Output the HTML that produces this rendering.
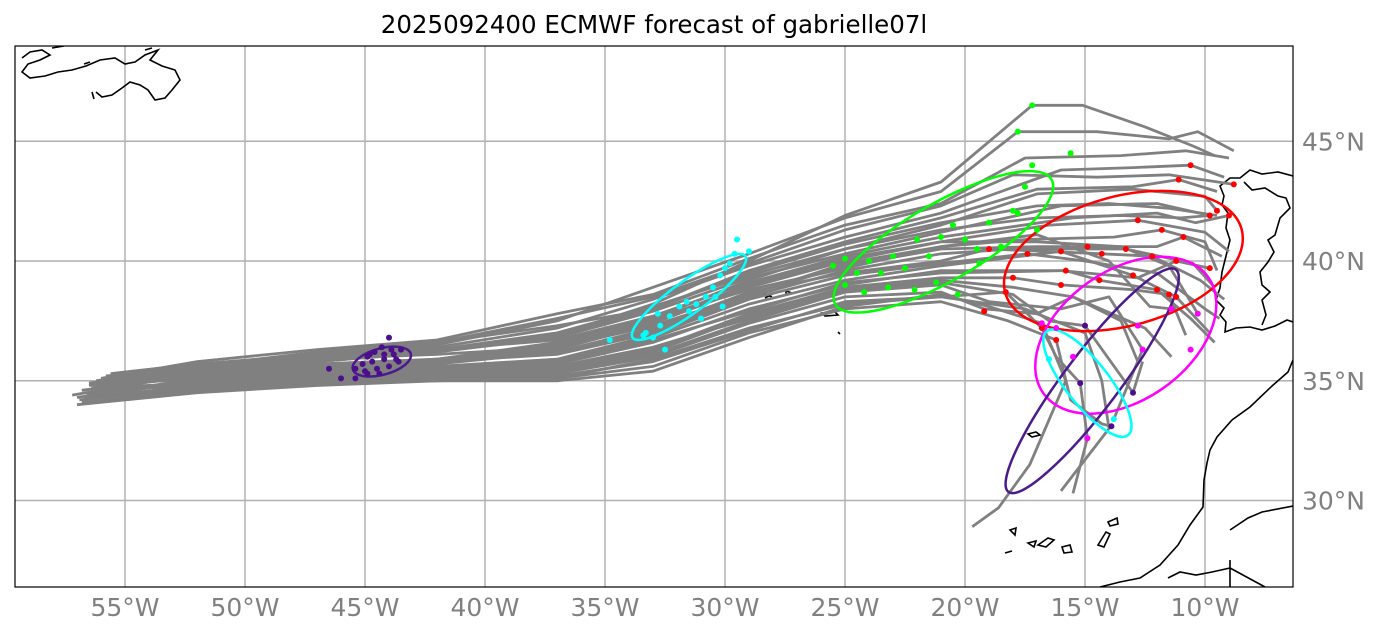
<!DOCTYPE html>
<html><head><meta charset="utf-8">
<style>
html,body{margin:0;padding:0;background:#fff;}
svg{display:block;font-family:"DejaVu Sans","Liberation Sans",sans-serif;}
</style></head>
<body>
<svg id="chart" width="1382" height="636" viewBox="0 0 1382 636" xmlns="http://www.w3.org/2000/svg">
<text x="654" y="33" text-anchor="middle" font-size="24.5" fill="#000">2025092400 ECMWF forecast of gabrielle07l</text>
<defs><clipPath id="clip"><rect x="15" y="46" width="1278" height="541"/></clipPath></defs>
<g id="grid"></g>
<g clip-path="url(#clip)">
<g id="coast" fill="none" stroke="#000" stroke-width="1.6">
<path d="M22,58 L30,52 L42,50 L50,55 L40,60 L28,64 L22,72 L30,78 L45,76 L58,72 L72,70 L86,66 L100,60 L115,58 L125,64 L135,62 L145,55 L158,50 L150,60 L162,66 L175,70 L180,80 L172,90 L165,98 L155,100 L148,90 L140,85 L130,82 L122,88 L112,95 L102,97 L96,92 M52,48 L64,46 M84,64 L90,62 M145,50 L152,48 M92,92 L94,99"/>
<path d="M752,296 L762,293 L772,297 M765,298 L774,293 M786,291 L792,293 L786,295 Z M822,313 L835,312 L838,315 L825,316 Z M838,332 L840,334"/>
<path d="M1028,434 L1036,432 L1040,435 L1032,437 Z"/>
<path d="M1010,530 L1016,528 L1015,535 Z M1005,553 L1012,551 M1028,543 L1036,541 L1034,547 Z M1038,545 L1048,538 L1054,540 L1046,547 Z M1062,547 L1070,545 L1072,552 L1064,553 Z M1098,545 L1106,532 L1110,534 L1104,547 Z M1108,522 L1117,518 L1118,524 L1110,526 Z"/>
<path d="M1293,176 L1278,172 L1262,174 L1250,170 L1240,178 L1230,178 L1220,186 L1224,196 L1222,205 L1228,213 L1226,228 L1230,240 L1226,256 L1222,272 L1220,288 L1216,300 L1224,308 L1220,315 L1226,322 L1225,332 L1236,328 L1250,327 L1262,330 L1275,326 L1287,320 L1293,322"/>
<path d="M1244,182 L1252,190 L1265,188 L1278,196 L1286,198 L1290,208 L1280,218 L1275,235 L1268,240 L1274,252 L1268,262 L1260,272 L1262,285 L1270,292 L1262,300 L1266,315 L1262,325"/>
<path d="M1293,360 L1288,372 L1272,386 L1250,407 L1232,420 L1217,437 L1210,450 L1207,463 L1204,480 L1203,507 L1190,525 L1178,545 L1160,565 L1140,578 L1120,582 L1100,587 M1168,578 L1180,572 L1196,575 L1212,572 L1230,568 M1230,560 L1230,587 M1230,568 L1265,587 M1230,530 L1248,518 L1262,512 L1293,506"/>
</g>
<g id="tracks"></g>
<g id="ellipses"></g>
<g id="dots"></g>
</g>
<rect x="15" y="46" width="1278" height="541" fill="none" stroke="#000" stroke-width="1.2"/>
<g id="labels"></g>
</svg>
<script>
const lonTicks = [-55,-50,-45,-40,-35,-30,-25,-20,-15,-10];
const latTicks = [30,35,40,45];
const trunkLons = [-52,-47,-42,-37,-33,-29,-25,-21];
const trackStarts = [[-57.2,34.4],[-56.5,34.8],[-56,35.1],[-56.3,34.6],[-55.8,35.2],[-56.7,34.3],[-56,35.0],[-55.5,35.3],[-56.2,34.9],[-56.4,34.7],[-55.7,35.0],[-56.8,34.6],[-56,35.0],[-56.2,34.8],[-56.5,34.5],[-56.6,34.4],[-55.6,35.1],[-56.3,34.7],[-56.9,34.2],[-56.1,34.5],[-56.8,34.1],[-56.0,34.6],[-57,34.0],[-55.8,34.9],[-56.4,34.3],[-55.6,35.3],[-56.2,35.0],[-56.5,34.9],[-57,34.3],[-56.3,34.8],[-56,34.6]];
const trunkLats = [
[35.3,35.8,36.2,36.9,38.2,40.0,41.9,43.3],[35.6,36.1,36.5,37.5,38.9,40.3,41.8,42.9],[35.8,36.3,36.7,37.8,38.6,40.1,41.5,42.4],[35.5,36.0,36.4,37.2,38.4,39.8,41.0,42.0],[35.6,36.1,36.6,37.3,38.0,39.6,40.8,41.8],[35.0,35.5,35.9,36.6,37.6,39.2,40.5,41.5],[35.4,35.8,36.2,36.8,37.9,39.3,40.3,41.2],[35.7,36.0,36.3,36.7,37.7,39.1,40.2,41.0],[35.2,35.5,35.7,36.3,37.4,38.9,40.0,40.8],[35.3,35.6,35.9,36.5,37.6,38.8,39.7,40.6],[35.5,35.9,36.1,36.4,37.3,38.6,39.8,40.5],[35.2,35.6,35.8,36.1,37.0,38.5,39.6,40.3],[35.4,35.7,35.9,36.2,37.2,38.7,39.5,40.0],[35.1,35.4,35.6,35.9,36.9,38.4,39.4,39.9],[35.0,35.3,35.5,35.8,36.8,38.2,39.2,39.8],[35.0,35.3,35.4,35.7,36.6,38.0,39.0,39.6],[35.3,35.5,35.6,35.8,36.7,37.9,39.1,39.5],[34.9,35.2,35.3,35.5,36.3,37.8,38.9,39.3],[34.7,35.0,35.1,35.4,36.2,37.7,38.8,39.2],[34.9,35.1,35.2,35.3,36.0,37.4,38.5,38.7],[34.6,34.9,35.0,35.1,35.9,37.2,38.2,38.5],[34.8,35.0,35.1,35.1,35.6,37.0,38.0,38.3],[34.5,34.8,35.0,35.0,35.4,36.8,38.1,38.6],[35.1,35.3,35.4,35.6,36.4,37.6,38.8,39.1],[34.8,35.1,35.2,35.4,36.1,37.5,38.7,39.0],[35.7,36.1,36.3,36.9,38.0,39.5,40.7,41.6],[35.6,36.2,36.6,37.6,38.5,39.9,41.3,42.3],[35.4,35.9,36.3,37.0,38.1,39.4,40.5,41.3],[35.1,35.5,35.8,36.4,37.5,39.0,40.1,40.8],[35.2,35.5,35.7,36.2,37.1,38.6,39.9,40.6],[34.9,35.1,35.2,35.2,35.8,37.1,38.3,38.5]];
const trackTails = [
[[-17.2,46.5],[-15.1,46.5],[-12.5,45.6],[-10.5,44.8],[-9.6,44.4]],
[[-17.8,45.4],[-14.5,45.4],[-11.5,45.1],[-10.3,45.4],[-8.8,44.6]],
[[-17.5,44.3],[-13.5,44.4],[-10.8,44.6],[-9.0,44.3]],
[[-16.0,43.8],[-13,43.9],[-10.6,44.0],[-9.2,43.5]],
[[-17,43.0],[-13,43.1],[-11.1,43.4],[-9.5,42.9]],
[[-17,42.8],[-13,43],[-10,42.7],[-9.5,42.1]],
[[-16,42.3],[-12,42.4],[-9.8,41.9]],
[[-15.5,41.8],[-12,42.0],[-10.4,41.6],[-9.0,41.9]],
[[-16.5,41.5],[-12.8,41.7],[-10,41.2],[-9,40.4]],
[[-17.4,40.9],[-13.8,41.0],[-11.8,41.3],[-10,40.8],[-9.5,39.6]],
[[-17,40.6],[-14.9,40.6],[-12,40.6],[-10.9,41.0],[-9.3,40.2]],
[[-18,40.5],[-13.3,40.5],[-10.5,39.9],[-9.6,38.9]],
[[-19,40.5],[-14.3,40.3],[-12.2,40.2],[-10.2,39.2],[-9.2,38.4]],
[[-17.4,40.3],[-15,40],[-12,39.5],[-10,38.0],[-9.4,37.6]],
[[-16,40.4],[-13,39.4],[-11.2,38.5],[-9.8,37.0]],
[[-16,39.6],[-12.8,39.3],[-11.2,40.0],[-9.8,39.7]],
[[-15.8,39.6],[-14.4,39.2],[-12,38.8],[-10.6,37.6],[-9.6,36.6]],
[[-18,39.3],[-16,39.0],[-13,38.8],[-11.5,38.6],[-10.8,36.9]],
[[-18,38.9],[-15.5,38.5],[-12.5,37.2],[-11.4,36.0]],
[[-19.2,38.0],[-17,37.8],[-15.5,38.5],[-13.5,37.5],[-12.8,35.8]],
[[-18.3,38.7],[-16.8,37.2],[-16.2,36.0],[-15.2,34.9],[-14.9,32.6],[-15.5,30.3]],
[[-18.2,37.5],[-16.2,36.7],[-15.6,34.2],[-14.3,33.2],[-13.9,33.1]],
[[-19,38.1],[-16.8,37.4],[-15.8,35.0],[-17.3,31.5],[-18.6,29.7],[-19.7,28.9]],
[[-18,38.6],[-16.5,37.5],[-15.0,37.3],[-13.0,34.5],[-12.6,35.8]],
[[-19,38.3],[-16.0,38.0],[-14,38.5],[-12.6,36.3],[-13.8,33.4]],
[[-17,42.3],[-14,42.4],[-11.5,42.2],[-9.5,41.9]],
[[-18,43.6],[-14.5,43.5],[-11.5,43.6],[-8.8,43.2]],
[[-17,41.8],[-13.5,41.9],[-11,41.8],[-9.8,41.9]],
[[-17,40.8],[-13.5,40.6],[-11.5,39.8],[-10.3,37.8]],
[[-17,41.1],[-14,40.0],[-12.3,38.1],[-11.4,38.0]],
[[-17.5,38.0],[-15.0,37.0],[-14.3,35.0],[-14.0,33.0],[-16.0,30.4]]];
const dotsIndigo1 = [[-44,36.8],[-44.3,36.4],[-44.6,36.2],[-44.9,36.0],[-45.1,35.7],[-44.7,35.8],[-44.2,35.9],[-43.8,36.1],[-43.5,36.3],[-43.6,35.8],[-44.0,35.6],[-44.5,35.5],[-45.0,35.4],[-45.4,35.5],[-46.5,35.5],[-46.0,35.1],[-45.4,35.1],[-44.9,35.3],[-44.4,35.3],[-43.9,36.3],[-44.2,36.1],[-44.8,36.1],[-43.7,35.9]];
const dotsCyan1 = [[-34.8,36.7],[-33.3,37],[-33,36.8],[-32.5,36.3],[-32.7,37.3],[-32.3,37.7],[-31.9,38.1],[-31.6,38.3],[-31.2,38.2],[-30.8,38.5],[-30.5,38.9],[-30.2,39.4],[-30.0,39.7],[-29.6,40.3],[-29.5,40.9],[-29.0,40.4],[-31.5,37.9],[-30.4,38.5],[-30.1,38.1],[-31.0,37.6],[-32.8,37.8],[-33.4,36.9],[-29.8,39.9]];
const dotsGreen = [[-25.5,39.8],[-25,40.1],[-24.5,39.5],[-24,40],[-23.5,39.5],[-23,40.2],[-22.5,39.7],[-22,40.9],[-21.5,40.2],[-21,41],[-20.5,41.5],[-20,40.9],[-19.5,40.5],[-19,41.6],[-18.5,40.6],[-18,42.1],[-17.8,42.0],[-17,41.3],[-17.8,45.4],[-15.6,44.5],[-17.2,46.5],[-17.5,43.1],[-17.2,44.0],[-25,39.0],[-23.2,38.9],[-22.1,38.8],[-20.3,38.6],[-21.2,39.1],[-19.4,39.9],[-24.2,38.7]];
const dotsRed = [[-10.6,44.0],[-11.1,43.4],[-8.8,43.2],[-9.5,42.1],[-9.8,41.9],[-9.0,41.9],[-12.8,41.7],[-11.8,41.3],[-10.9,41.0],[-13.3,40.5],[-12.2,40.2],[-11.2,40.0],[-9.8,39.7],[-14.9,40.6],[-14.3,40.3],[-16.0,40.4],[-15.8,39.6],[-17.4,40.3],[-18.0,39.3],[-19.0,40.5],[-18.3,38.7],[-19.2,37.9],[-16.8,37.2],[-16.2,36.7],[-12.0,38.8],[-11.5,38.6],[-11.2,38.5],[-13.0,39.4],[-14.4,39.2],[-16.0,39.0]];
const dotsMagenta = [[-16.2,37.2],[-15.5,36.0],[-14.9,32.6],[-12.8,37.3],[-11.4,38.0],[-10.3,37.8],[-10.6,36.3],[-16.8,37.4],[-12.6,36.3]];
const dotsIndigo2 = [[-15.2,34.9],[-13.9,33.1],[-13.0,34.5],[-15.0,37.3]];
const dotsCyan2 = [[-16.5,35.9],[-13.8,33.4]];
// ellipses: [centerLon, centerLat, semiAxisLonDeg, semiAxisLatDeg, angleDeg]
const ellipseIndigo1 = [-44.3,35.8,1.25,0.55,-15];
const ellipseCyan1 = [-31.5,38.5,2.9,0.68,-36];
const ellipseGreen = [-20.9,40.8,5.2,1.6,-30];
const ellipseRed = [-13.4,40.0,5.1,2.7,-15];
const ellipseMagenta = [-13.3,36.9,4.2,2.7,-35];
const ellipseIndigo2 = [-14.7,35.0,5.8,1.15,-53];
const ellipseCyan2 = [-14.9,34.9,2.75,0.9,52];

const NS='http://www.w3.org/2000/svg';
const X = lon => 125 + (lon + 55) * 24;
const Y = lat => 261 - (lat - 40) * 23.95;
function mk(tag, parent){const e=document.createElementNS(NS,tag);document.getElementById(parent).appendChild(e);return e;}

lonTicks.forEach(v=>{
  const l=mk('line','grid');
  
  
  l.setAttribute('x1',X(v));l.setAttribute('x2',X(v));l.setAttribute('y1',46);l.setAttribute('y2',587);
  l.setAttribute('stroke','#b0b0b0');l.setAttribute('stroke-width','1.5');
  const t=mk('text','labels');
  
  
  t.setAttribute('x',X(v));t.setAttribute('y',616);t.setAttribute('text-anchor','middle');
  t.setAttribute('font-size','25');t.setAttribute('fill','#808080');
  t.textContent=Math.abs(v)+'°W';
});
latTicks.forEach(v=>{
  const l=mk('line','grid');
  
  
  l.setAttribute('x1',15);l.setAttribute('x2',1293);l.setAttribute('y1',Y(v));l.setAttribute('y2',Y(v));
  l.setAttribute('stroke','#b0b0b0');l.setAttribute('stroke-width','1.5');
  const t=mk('text','labels');
  
  
  t.setAttribute('x',1302);t.setAttribute('y',Y(v)+9);
  t.setAttribute('font-size','25');t.setAttribute('fill','#808080');
  t.textContent=v+'°N';
});
trackStarts.forEach((s,i)=>{
  const pts=[s];
  trunkLons.forEach((lo,j)=>pts.push([lo,trunkLats[i][j]]));
  trackTails[i].forEach(p=>pts.push(p));
  const p=mk('polyline','tracks');
  
  
  p.setAttribute('points',pts.map(q=>X(q[0]).toFixed(1)+','+Y(q[1]).toFixed(1)).join(' '));
  p.setAttribute('fill','none');p.setAttribute('stroke','#808080');p.setAttribute('stroke-width','2.8');
  p.setAttribute('stroke-linejoin','round');
});
function ell(e,color,name){
  const el=mk('ellipse','ellipses');
  
  
  const cx=X(e[0]),cy=Y(e[1]);
  el.setAttribute('cx',cx);el.setAttribute('cy',cy);
  el.setAttribute('rx',e[2]*24);el.setAttribute('ry',e[3]*24);
  el.setAttribute('transform','rotate('+e[4]+' '+cx+' '+cy+')');
  el.setAttribute('fill','none');el.setAttribute('stroke',color);el.setAttribute('stroke-width','2.5');
}
function dots(arr,color,name){
  arr.forEach(d=>{
    const c=mk('circle','dots');
    
    
    c.setAttribute('cx',X(d[0]));c.setAttribute('cy',Y(d[1]));c.setAttribute('r',3);c.setAttribute('fill',color);
  });
}
dots(dotsIndigo1,'#4b0f8c','position-dot-indigo');
dots(dotsCyan1,'#00ffff','position-dot-cyan');
dots(dotsGreen,'#00ff00','position-dot-green');
dots(dotsRed,'#ff0000','position-dot-red');
dots(dotsMagenta,'#ff00ff','position-dot-magenta');
dots(dotsIndigo2,'#4b0f8c','position-dot-indigo-late');
dots(dotsCyan2,'#00ffff','position-dot-cyan-late');
ell(ellipseIndigo1,'#4b1a8c','ellipse-indigo');
ell(ellipseCyan1,'#00ffff','ellipse-cyan');
ell(ellipseGreen,'#00ff00','ellipse-green');
ell(ellipseRed,'#ff0000','ellipse-red');
ell(ellipseMagenta,'#ff00ff','ellipse-magenta');
ell(ellipseIndigo2,'#4b1a8c','ellipse-indigo-late');
ell(ellipseCyan2,'#00ffff','ellipse-cyan-late');
</script>
</body></html>
